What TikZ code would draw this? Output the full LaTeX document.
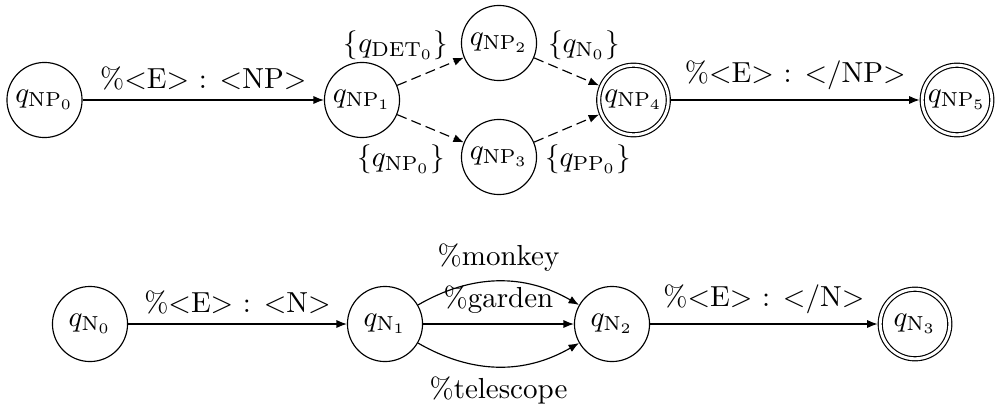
\documentclass[tikz,border=0pt]{standalone}
\usetikzlibrary{arrows.meta}
\begin{document}
\begin{tikzpicture}[x=0.345pt,y=-0.345pt,
  state/.style={circle,draw,minimum size=25.9pt,inner sep=0pt},
  final/.style={circle,draw,minimum size=24pt,inner sep=0pt,double,double distance=1pt,outer sep=0.9pt},
  arr/.style={-{Latex[length=3.6pt,width=2.8pt]}},
  dsh/.style={arr,dash pattern=on 3.5pt off 1.8pt},
  lab/.style={inner sep=0pt}]
\useasboundingbox (0,0) rectangle (995,407);
% top row
\node[state] (np0) at (44.5,100) {$q_{\mathrm{NP}_0}$};
\node[state] (np1) at (362,100) {$q_{\mathrm{NP}_1}$};
\node[state] (np2) at (499,43) {$q_{\mathrm{NP}_2}$};
\node[state] (np3) at (499,157) {$q_{\mathrm{NP}_3}$};
\node[final] (np4) at (633.5,100) {$q_{\mathrm{NP}_4}$};
\node[final] (np5) at (957,100) {$q_{\mathrm{NP}_5}$};
\draw[arr] (np0) -- node[above] {\%$<$E$>$ : $<$NP$>$} (np1);
\draw[dsh] (np1) -- (np2);
\draw[dsh] (np1) -- (np3);
\draw[dsh] (np2) -- (np4);
\draw[dsh] (np3) -- (np4);
\draw[arr] (np4) -- node[above] {\%$<$E$>$ : $<$/NP$>$} (np5);
\node[lab] (ldet) at (396,45) {$\{q_{\mathrm{DET}_0}\}$};
\node[lab] (ln) at (584,45) {$\{q_{\mathrm{N}_0}\}$};
\node[lab] (lnp) at (401,159) {$\{q_{\mathrm{NP}_0}\}$};
\node[lab] (lpp) at (588,159) {$\{q_{\mathrm{PP}_0}\}$};
% bottom row
\node[state] (n0) at (90,324) {$q_{\mathrm{N}_0}$};
\node[state] (n1) at (385,324) {$q_{\mathrm{N}_1}$};
\node[state] (n2) at (612,324) {$q_{\mathrm{N}_2}$};
\node[final] (n3) at (915,324) {$q_{\mathrm{N}_3}$};
\draw[arr] (n0) -- node[above] {\%$<$E$>$ : $<$N$>$} (n1);
\draw[arr] (n1) to[bend left=30] node[above] {\%monkey} (n2);
\draw[arr] (n1) -- node[above] {\%garden} (n2);
\draw[arr] (n1) to[bend right=30] node[below] {\%telescope} (n2);
\draw[arr] (n2) -- node[above] {\%$<$E$>$ : $<$/N$>$} (n3);
\end{tikzpicture}
\end{document}
